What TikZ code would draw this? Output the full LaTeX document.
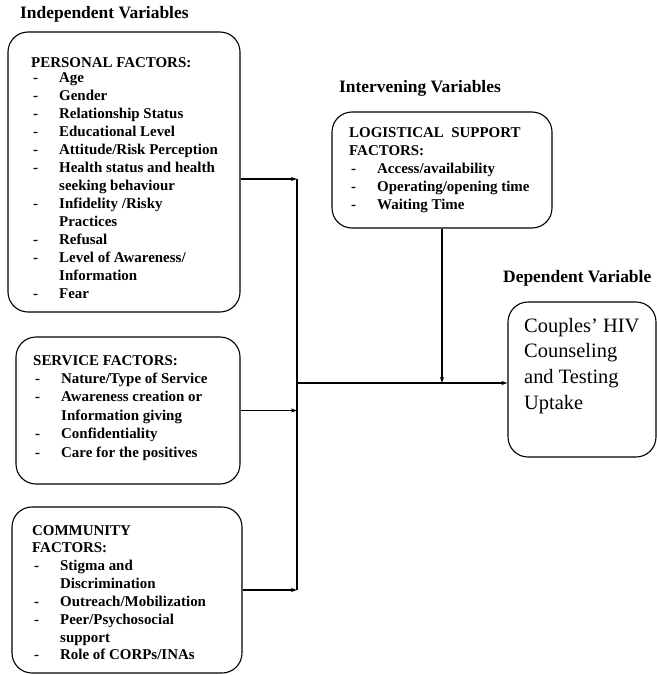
\documentclass[tikz,border=0pt]{standalone}
\usepackage{fontspec}
\setmainfont{Liberation Serif}
\usetikzlibrary{arrows.meta}
\newcommand{\itm}[1]{\makebox[28bp][l]{\hspace*{2bp}-}#1}
\newcommand{\cnt}{\hspace*{28bp}}
\begin{document}
\begin{tikzpicture}[x=1bp,y=-1bp,
  box/.style={draw, line width=1.1bp, rounded corners=20bp, inner sep=0pt},
  txt/.style={anchor=north west, inner sep=0pt, align=left, font=\bfseries\fontsize{15}{18}\selectfont},
  ttl/.style={anchor=west, inner sep=0pt, font=\bfseries\fontsize{17.5}{20}\selectfont},
  conn/.style={line width=1.3bp},
  arr/.style={line width=1.3bp, -{Stealth[length=6bp,width=4bp]}}]
\useasboundingbox (0,0) rectangle (657,675);

% titles
\node[ttl] (tind) at (20,14) {Independent Variables};
\node[ttl] (tint) at (339,88) {Intervening Variables};
\node[ttl] (tdep) at (503,278) {Dependent Variable};

% boxes
\node[box, minimum width=232bp, minimum height=280bp] (pers) at (124,172) {};
\node[box, minimum width=224bp, minimum height=147bp] (serv) at (128,410.5) {};
\node[box, minimum width=230bp, minimum height=166bp] (comm) at (127,590) {};
\node[box, minimum width=220bp, minimum height=116bp] (logi) at (442,170) {};
\node[box, minimum width=148bp, minimum height=155bp] (dep) at (582,379.5) {};

% texts
\node[txt, font=\bfseries\fontsize{15}{18.05}\selectfont] (perst) at (31,57) {PERSONAL FACTORS:\\[-2.5bp]
\itm{Age}\\ \itm{Gender}\\ \itm{Relationship Status}\\ \itm{Educational Level}\\
\itm{Attitude/Risk Perception}\\ \itm{Health status and health}\\ \cnt seeking behaviour\\
\itm{Infidelity /Risky}\\ \cnt Practices\\ \itm{Refusal}\\ \itm{Level of Awareness/}\\
\cnt Information\\ \itm{Fear}};
\node[txt, font=\bfseries\fontsize{15}{18.6}\selectfont] (servt) at (33,355) {SERVICE FACTORS:\\[-0.5bp]
\itm{Nature/Type of Service}\\ \itm{Awareness creation or}\\ \cnt Information giving\\
\itm{Confidentiality}\\ \itm{Care for the positives}};
\node[txt, font=\bfseries\fontsize{15}{17.9}\selectfont] (commt) at (32,525) {COMMUNITY\\ FACTORS:\\
\itm{Stigma and}\\ \cnt Discrimination\\ \itm{Outreach/Mobilization}\\
\itm{Peer/Psychosocial}\\ \cnt support\\ \itm{Role of CORPs/INAs}};
\node[txt, font=\bfseries\fontsize{15}{18.2}\selectfont] (logit) at (349,127) {LOGISTICAL\ \ SUPPORT\\ FACTORS:\\
\itm{Access/availability}\\ \itm{Operating/opening time}\\ \itm{Waiting Time}};
\node[anchor=north west, inner sep=0pt, align=left, font=\fontsize{20.5}{25.7}\selectfont] (dept) at (524,318)
{Couples' HIV\\ Counseling\\ and Testing\\ Uptake};

% connectors
\coordinate (j1) at (297,179);
\coordinate (j2) at (297,410.5);
\coordinate (j3) at (297,590);
\coordinate (jm) at (297,383);
\coordinate (jl) at (logi.south |- jm);
\draw[arr] (pers.east |- j1) -- (j1);
\draw[arr] (serv.east |- j2) -- (j2);
\draw[arr] (comm.east |- j3) -- (j3);
\draw[conn] (j1) -- (j3);
\draw[arr] (jm) -- (dep.west |- jm);
\draw[arr] (logi.south) -- (jl);
\end{tikzpicture}
\end{document}
